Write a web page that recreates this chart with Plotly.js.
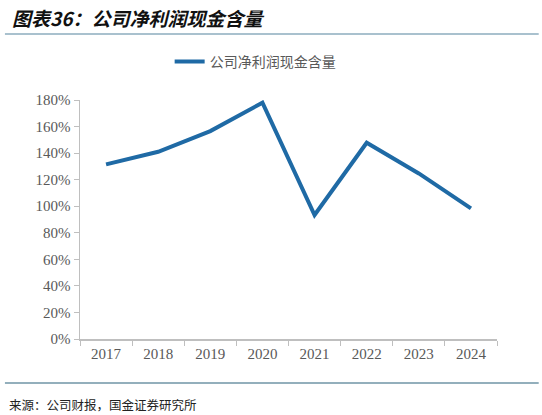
<!DOCTYPE html>
<html>
<head>
<meta charset="utf-8">
<script src="https://cdn.plot.ly/plotly-3.0.1.min.js"></script>
<style>html,body{margin:0;padding:0;background:#fff;}#chart{width:542px;height:415px;}</style>
</head>
<body>
<div id="chart"></div>
<script>
const years = ['2017','2018','2019','2020','2021','2022','2023','2024'];
const cashContent = [131.5, 141, 156.6, 178, 93.4, 147.8, 124.7, 98.4];
const seriesName = '公司净利润现金含量';
const chartTitle = '图表36：公司净利润现金含量';
const sourceText = '来源：公司财报，国金证券研究所';
const yTicks = [0,20,40,60,80,100,120,140,160,180];
const yTickLabels = yTicks.map(v => v + '%');

const serif = 'Liberation Serif';
const trace = {
  x: years, y: cashContent, type: 'scatter', mode: 'lines', name: seriesName,
  line: {color: '#1f6aa5', width: 4}
};
const layout = {
  width: 542, height: 415,
  margin: {l: 80, r: 45, t: 100, b: 76},
  paper_bgcolor: '#fff', plot_bgcolor: '#fff',
  font: {family: serif, color: '#595959'},
  showlegend: true,
  legend: {orientation: 'h', x: 0.215, xanchor: 'left', y: 1.159, yanchor: 'middle',
    font: {family: 'Noto Sans CJK SC', size: 14, color: '#595959'}},
  xaxis: {type: 'category', range: [-0.5, 7.5], showgrid: false, zeroline: false,
    showline: true, linecolor: '#bfbfbf', linewidth: 1.5,
    ticks: 'outside', tickson: 'boundaries', ticklen: 5, tickcolor: '#bfbfbf',
    tickfont: {family: serif, size: 15, color: '#595959'}},
  yaxis: {range: [0, 180], tickmode: 'array', tickvals: yTicks, ticktext: yTickLabels,
    showgrid: false, zeroline: false,
    showline: true, linecolor: '#bfbfbf', linewidth: 1.5,
    ticks: 'outside', ticklen: 5, tickcolor: '#bfbfbf',
    tickfont: {family: serif, size: 15, color: '#595959'}},
  shapes: [
    {type: 'line', xref: 'paper', yref: 'paper', x0: -0.18, x1: 1.1, y0: 1.276, y1: 1.276,
      line: {color: '#a9c1ce', width: 2}},
    {type: 'line', xref: 'paper', yref: 'paper', x0: -0.18, x1: 1.1, y0: -0.184, y1: -0.184,
      line: {color: '#6f95a6', width: 1.5}}
  ],
  annotations: [
    {text: '<b><i>' + chartTitle + '</i></b>', xref: 'paper', yref: 'paper', x: -0.168, y: 1.347,
      xanchor: 'left', yanchor: 'middle', showarrow: false,
      font: {family: 'Noto Sans CJK SC', size: 19, color: '#111'}},
    {text: sourceText, xref: 'paper', yref: 'paper', x: -0.175, y: -0.272,
      xanchor: 'left', yanchor: 'middle', showarrow: false,
      font: {family: 'Noto Sans CJK SC', size: 12.5, color: '#222'}}
  ]
};
Plotly.newPlot('chart', [trace], layout, {displayModeBar: false, staticPlot: true});
</script>
</body>
</html>
